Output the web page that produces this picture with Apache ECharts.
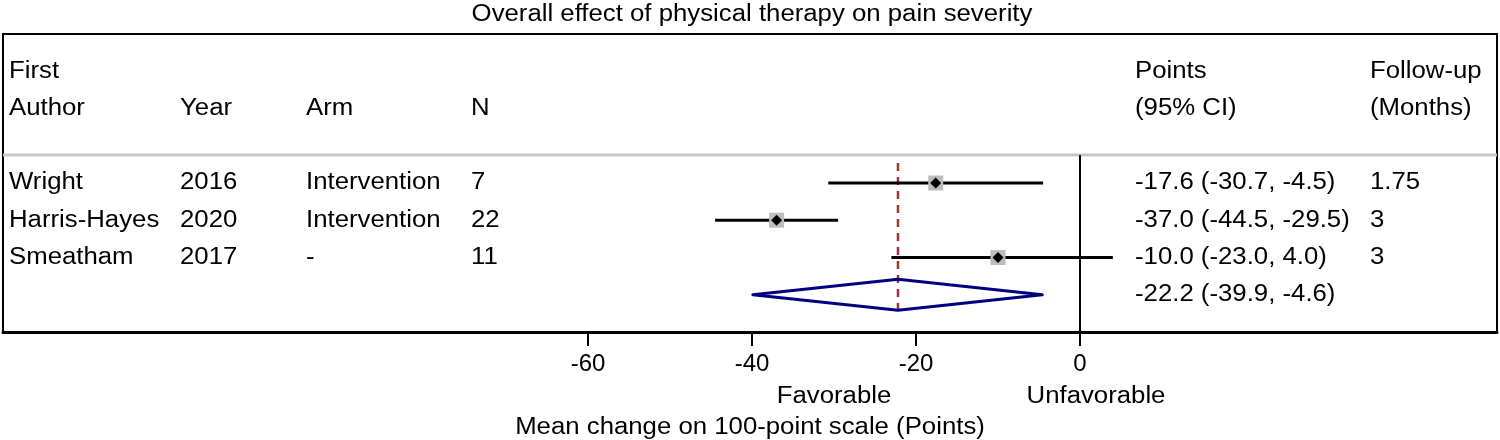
<!DOCTYPE html>
<html>
<head>
<meta charset="utf-8">
<script src="https://cdn.jsdelivr.net/npm/echarts@6/dist/echarts.min.js"></script>
<style>
html,body{margin:0;padding:0;background:#fff;}
#chart{width:1500px;height:440px;}
</style>
</head>
<body>
<div id="chart"></div>
<script>
// ---- data ----
const authors = ['Wright', 'Harris-Hayes', 'Smeatham'];
const years = ['2016', '2020', '2017'];
const arms = ['Intervention', 'Intervention', '-'];
const ns = ['7', '22', '11'];
const estimates = [-17.6, -37.0, -10.0];
const lowerCI = [-30.7, -44.5, -23.0];
const upperCI = [-4.5, -29.5, 4.0];
const followUp = ['1.75', '3', '3'];
const pooledEst = [-22.2];
const pooledLower = [-39.9];
const pooledUpper = [-4.6];
const xTicks = [-60, -40, -20, 0];
const headerTop = ['First', '', '', '', 'Points', 'Follow-up'];
const headerBottom = ['Author', 'Year', 'Arm', 'N', '(95% CI)', '(Months)'];
const titleText = 'Overall effect of physical therapy on pain severity';
const axisTitle = 'Mean change on 100-point scale (Points)';
const sideLabels = ['Favorable', 'Unfavorable'];

// ---- layout (pixels) ----
const FONT = 'Liberation Sans';
const FS = 23;
const SX = 1.12;
const colX = [9, 180, 306, 471, 1135, 1370];

const fmt = v => v.toFixed(1);
const fontStr = FS + 'px "' + FONT + '"';
const txt = (x, y, s, align) => ({
  type: 'text', x: x, y: y, scaleX: SX,
  style: {text: s, fill: '#000', font: fontStr, verticalAlign: 'middle', align: align || 'left'}
});

const studyData = estimates.map((e, i) => [e, i, lowerCI[i], upperCI[i]]);
const pooledData = pooledEst.map((e, i) => [e, estimates.length, pooledLower[i], pooledUpper[i]]);

const chart = echarts.init(document.getElementById('chart'), null, {renderer: 'canvas'});

function renderStudy(params, api) {
  const i = params.dataIndex;
  const est = api.value(0), lo = api.value(2), hi = api.value(3), row = api.value(1);
  const c = api.coord([est, row]);
  const l = api.coord([lo, row]);
  const h = api.coord([hi, row]);
  const y = c[1];
  const d = 5.5;
  return {
    type: 'group',
    children: [
      {type: 'line', shape: {x1: l[0], y1: y, x2: h[0], y2: y}, style: {stroke: '#000', lineWidth: 3.2}},
      {type: 'rect', shape: {x: c[0] - 7.5, y: y - 7.5, width: 15, height: 15}, style: {fill: '#bdbdbd'}},
      {type: 'polygon', shape: {points: [[c[0], y - d], [c[0] + d, y], [c[0], y + d], [c[0] - d, y]]}, style: {fill: '#000'}},
      txt(colX[0], y, authors[i]),
      txt(colX[1], y, years[i]),
      txt(colX[2], y, arms[i]),
      txt(colX[3], y, ns[i]),
      txt(colX[4], y, fmt(est) + ' (' + fmt(lo) + ', ' + fmt(hi) + ')'),
      txt(colX[5], y, followUp[i])
    ]
  };
}

function renderPooled(params, api) {
  const row = api.value(1);
  const est = api.value(0), lo = api.value(2), hi = api.value(3);
  const c = api.coord([est, row]);
  const l = api.coord([lo, row]);
  const h = api.coord([hi, row]);
  const y = c[1];
  const hh = 15.5;
  const dTop = api.coord([est, -0.54]);
  const zTop = api.coord([0, -0.75]);
  const zBot = api.coord([0, 4]);
  return {
    type: 'group',
    children: [
      {type: 'line', shape: {x1: zTop[0], y1: zTop[1], x2: zBot[0], y2: zBot[1]}, style: {stroke: '#000', lineWidth: 2}},
      {type: 'line', shape: {x1: c[0], y1: dTop[1], x2: c[0], y2: y + hh + 1.5}, style: {stroke: '#a3353a', lineWidth: 2.5, lineDash: [8, 6]}},
      {type: 'polygon', shape: {points: [[l[0], y], [c[0], y - hh], [h[0], y], [c[0], y + hh]]}, style: {fill: 'none', stroke: '#000080', lineWidth: 3, lineJoin: 'round'}},
      txt(colX[4], y, fmt(est) + ' (' + fmt(lo) + ', ' + fmt(hi) + ')')
    ]
  };
}

function renderHeader(params, api) {
  const yTop = api.coord([0, -3])[1];
  const yBot = api.coord([0, -2])[1];
  const yLine = api.coord([0, -0.75])[1];
  const kids = [];
  kids.push({type: 'line', shape: {x1: 3, y1: yLine, x2: 1497, y2: yLine}, style: {stroke: '#c8c8c8', lineWidth: 3}});
  headerTop.forEach((s, k) => { if (s) kids.push(txt(colX[k], yTop, s)); });
  headerBottom.forEach((s, k) => { if (s) kids.push(txt(colX[k], yBot, s)); });
  return {type: 'group', children: kids};
}

const gText = (x, y, s) => ({
  type: 'text', x: x, y: y, scaleX: SX,
  style: {text: s, fill: '#000', font: fontStr, align: 'center', verticalAlign: 'middle'}
});

chart.setOption({
  animation: false,
  backgroundColor: '#fff',
  grid: {left: 3, right: 3, top: 34, bottom: 108, show: true, borderColor: '#000', borderWidth: 2, containLabel: false},
  xAxis: {
    type: 'value', min: -131.34, max: 50.85,
    splitLine: {show: false},
    axisLine: {show: true, onZero: false, lineStyle: {color: '#000', width: 3}},
    axisTick: {show: true, length: 14, lineStyle: {color: '#000', width: 2}, customValues: xTicks},
    axisLabel: {fontFamily: FONT, fontSize: 24, color: '#000', margin: 20, customValues: xTicks}
  },
  yAxis: {
    type: 'value', min: -4, max: 4, inverse: true, show: false
  },
  graphic: [
    gText(752, 15, titleText),
    gText(834, 397, sideLabels[0]),
    gText(1096, 397, sideLabels[1]),
    gText(750, 428, axisTitle)
  ],
  series: [
    {type: 'custom', renderItem: renderHeader, data: [[0, 0]], encode: {x: 0, y: 1}, clip: false, silent: true, z: 1},
    {type: 'custom', renderItem: renderStudy, data: studyData, encode: {x: 0, y: 1}, clip: false, silent: true, z: 3},
    {type: 'custom', renderItem: renderPooled, data: pooledData, encode: {x: 0, y: 1}, clip: false, silent: true, z: 2}
  ]
});
</script>
</body>
</html>
